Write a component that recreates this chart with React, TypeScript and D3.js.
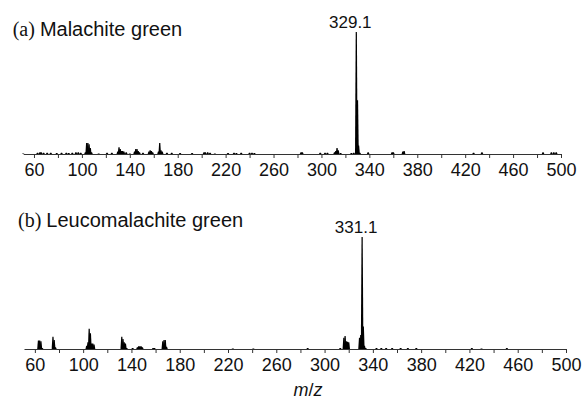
import React, { useRef, useEffect } from 'react';
import * as d3 from 'd3';

// [m/z, relative intensity %]
const mgPeaks: [number, number][] = [
  [51, 0.5], [63, 1], [65, 1.5], [66, 1.5], [68, 1], [71, 1], [74, 1], [79, 0.8],
  [83, 1], [87, 1], [89, 0.8], [92, 1], [95, 1.5], [97, 1.5], [99, 1], [103, 1.5],
  [104, 9], [105, 9], [106, 8], [107, 5], [108, 1.5], [114, 0.5], [121, 1], [125, 1],
  [130, 2], [131, 5.5], [132, 4], [133, 2.5], [134, 2.5], [135, 2], [137, 1.5], [140, 0.5],
  [144, 2], [145, 4], [146, 4], [147, 2.5], [148, 1.5], [151, 1], [156, 2], [157, 3],
  [158, 2.5], [159, 1.5], [164, 2], [165, 9], [166, 3], [167, 2], [171, 1], [175, 1],
  [182, 0.8], [192, 0.8], [202, 1.5], [203, 1.5], [205, 1.5], [207, 1], [211, 0.5],
  [222, 0.8], [227, 1], [229, 0.8], [233, 1], [240, 1], [242, 1], [244, 0.8],
  [283, 1.5], [284, 1.5], [299, 1], [303, 1], [305, 1], [311, 1.5], [312, 2.5], [313, 5],
  [314, 3], [316, 0.8], [325, 0.8], [327, 1], [329.1, 100], [330.1, 44], [331, 7], [332, 1],
  [339, 1.5], [359, 1.5], [360, 1.5], [368, 2], [369, 2.5], [427, 1], [434, 1.5],
  [485, 1.5], [492, 1.5], [494, 1.5], [496, 1.5]
];

const lmgPeaks: [number, number][] = [
  [63, 7.5], [64, 7.5], [65, 7], [66, 1], [75, 11], [76, 8], [77, 1.5],
  [103, 3], [104, 6], [105, 18], [106, 14], [107, 5], [108, 5], [109, 4],
  [132, 11], [133, 9], [134, 6], [135, 5], [136, 1], [141, 1],
  [145, 1.5], [146, 2.5], [147, 2.5], [148, 2.5], [149, 1.5], [158, 1], [159, 1],
  [166, 7], [167, 8], [168, 8], [169, 2], [224, 0.5], [241, 0.5], [286, 1], [313, 1],
  [316, 10], [317, 11.6], [318, 7], [319, 6.5], [320, 6], [329, 10], [330, 12.5],
  [331.1, 100], [332.1, 20], [333, 3], [334, 1], [343, 1], [347, 1], [351, 1], [356, 1],
  [363, 1], [369, 1], [376, 1], [422, 1], [430, 0.5], [451, 1]
];

const tickValues = d3.range(60, 501, 20);
const labelValues = [60, 100, 140, 180, 220, 260, 300, 340, 380, 420, 460, 500];

const panels = [
  { tag: '(a)', name: 'Malachite green', peaks: mgPeaks, base: '329.1', baseMz: 329.1,
    axisY: 154, topY: 32, x0: 23.2, x1: 561, titleX: 12.7, titleY: 36 },
  { tag: '(b)', name: 'Leucomalachite green', peaks: lmgPeaks, base: '331.1', baseMz: 331.1,
    axisY: 349, topY: 237, x0: 24, x1: 566, titleX: 18, titleY: 227 }
];

export default function App() {
  const svgRef = useRef<SVGSVGElement>(null);
  const width = 582;
  const height = 399;

  useEffect(() => {
    const svg = d3.select(svgRef.current);
    svg.selectAll('*').remove();

    panels.forEach(p => {
      const x = d3.scaleLinear().domain([51, 500]).range([p.x0, p.x1]);
      const y = d3.scaleLinear().domain([0, 100]).range([p.axisY, p.topY]);

      const g = svg.append('g');

      // peaks as narrow tapered sticks
      g.selectAll('path.peak')
        .data(p.peaks)
        .join('path')
        .attr('class', 'peak')
        .attr('fill', '#000')
        .attr('d', d => {
          const cx = x(d[0]);
          const top = y(d[1]);
          return `M${cx - 1.3},${p.axisY}L${cx - 0.6},${top}L${cx + 0.6},${top}L${cx + 1.3},${p.axisY}Z`;
        });

      // axis
      const axis = d3.axisBottom(x)
        .tickValues(tickValues)
        .tickSize(4)
        .tickSizeOuter(0)
        .tickPadding(5)
        .tickFormat(v => (labelValues.includes(+v) ? String(v) : ''));

      const ag = g.append('g')
        .attr('transform', `translate(0,${p.axisY})`)
        .call(axis);
      ag.select('.domain').attr('stroke', '#333').attr('stroke-width', 1);
      ag.selectAll('.tick line').attr('stroke', '#333');
      ag.selectAll('.tick text')
        .attr('font-family', 'Arial, "Liberation Sans", sans-serif')
        .attr('font-size', 18)
        .attr('fill', '#111');

      // base peak label
      g.append('text')
        .attr('x', x(p.baseMz) - 6)
        .attr('y', p.topY - 4)
        .attr('text-anchor', 'middle')
        .attr('font-family', 'Arial, "Liberation Sans", sans-serif')
        .attr('font-size', 17)
        .attr('fill', '#111')
        .text(p.base);

      // panel title
      const t = g.append('text')
        .attr('x', p.titleX)
        .attr('y', p.titleY)
        .attr('font-size', 20)
        .attr('fill', '#111');
      t.append('tspan')
        .attr('font-family', '"Times New Roman", "Liberation Serif", serif')
        .text(p.tag + ' ');
      t.append('tspan')
        .attr('font-family', 'Arial, "Liberation Sans", sans-serif')
        .text(p.name);
    });

    // x axis title
    const xt = svg.append('text')
      .attr('x', 308)
      .attr('y', 396)
      .attr('text-anchor', 'middle')
      .attr('font-family', 'Arial, "Liberation Sans", sans-serif')
      .attr('font-size', 18)
      .attr('fill', '#111');
    xt.append('tspan').attr('font-style', 'italic').text('m');
    xt.append('tspan').text('/');
    xt.append('tspan').attr('font-style', 'italic').text('z');
  }, []);

  return (
    <svg
      ref={svgRef}
      width={width}
      height={height}
      style={{ position: 'absolute', left: 0, top: 0, background: '#fff' }}
    />
  );
}
